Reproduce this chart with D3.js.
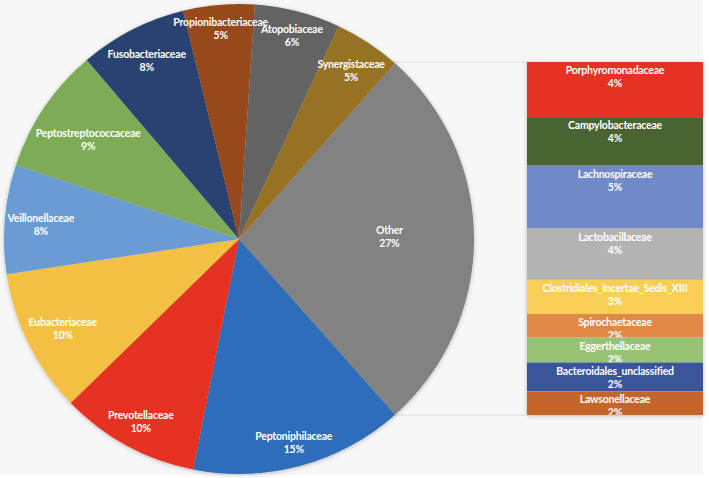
<!DOCTYPE html>
<html lang="en">
<head>
<meta charset="utf-8">
<title>pie of bar</title>
<script src="https://d3js.org/d3.v7.min.js"></script>
<style>
  body { margin: 0; background: #ffffff; font-family: Lato, "Open Sans", sans-serif; }
  .lbl { fill: #ffffff; font-size: 10.5px; font-weight: 700; letter-spacing: -0.2px; }
</style>
</head>
<body>
<div id="chart"></div>
<script>
// pie slices (clockwise, starting with the combined "Other" slice)
var pieNames = ["Other", "Peptoniphilaceae", "Prevotellaceae", "Eubacteriaceae", "Veillonellaceae",
  "Peptostreptococcaceae", "Fusobacteriaceae", "Propionibacteriaceae", "Atopobiaceae", "Synergistaceae"];
var pieValues = [26.9, 14.7, 9.6, 9.9, 7.5, 8.7, 7.4, 4.9, 5.9, 4.6];
var pieLabels = ["27%", "15%", "10%", "10%", "8%", "9%", "8%", "5%", "6%", "5%"];
var pieColors = ["#828282", "#2e6dba", "#e53222", "#f4c043", "#6a9bd4", "#7eab55",
  "#2b4271", "#97491e", "#636363", "#967222"];

// bar breakdown of "Other", top to bottom
var barNames = ["Porphyromonadaceae", "Campylobacteraceae", "Lachnospiraceae", "Lactobacillaceae",
  "Clostridiales_Incertae_Sedis_XIII", "Spirochaetaceae", "Eggerthellaceae",
  "Bacteroidales_unclassified", "Lawsonellaceae"];
var barValues = [4.2, 3.7, 4.8, 3.9, 2.6, 1.8, 1.9, 2.2, 1.8];
var barLabels = ["4%", "4%", "5%", "4%", "3%", "2%", "2%", "2%", "2%"];
var barColors = ["#e63223", "#4a6431", "#7089c9", "#b3b3b3", "#f8ce57", "#e08846",
  "#98c274", "#3a559a", "#c4652c"];

var W = 709, H = 478;
var cx = 239, cy = 239, R = 235;
var barX = 527, barW = 176, barTop = 62, barBottom = 415;

var svg = d3.select("#chart").append("svg")
  .attr("width", W).attr("height", H);

var defs = svg.append("defs");
var shadow = defs.append("filter").attr("id", "shadow")
  .attr("x", "-10%").attr("y", "-10%").attr("width", "120%").attr("height", "120%");
shadow.append("feDropShadow").attr("dx", 0).attr("dy", 1).attr("stdDeviation", 2)
  .attr("flood-color", "#000").attr("flood-opacity", 0.25);
defs.append("clipPath").attr("id", "barclip").append("rect")
  .attr("x", barX).attr("y", barTop).attr("width", barW).attr("height", barBottom - barTop);

// chart area background
svg.append("rect").attr("x", 0).attr("y", 0).attr("width", 703).attr("height", 475)
  .attr("fill", "#f7f7f7");

var pieData = pieNames.map(function(d, i) {
  return {name: d, value: pieValues[i], label: pieLabels[i], color: pieColors[i]};
});
var otherAngle = 2 * Math.PI * pieValues[0] / d3.sum(pieValues);

var pie = d3.pie()
  .sort(null)
  .value(function(d) { return d.value; })
  .startAngle(Math.PI / 2 - otherAngle / 2)
  .endAngle(Math.PI / 2 - otherAngle / 2 + 2 * Math.PI);

var arcs = pie(pieData);
var arc = d3.arc().innerRadius(0).outerRadius(R);

// connector lines from the "Other" slice to the bar
var other = arcs[0];
var p0 = [cx + R * Math.sin(other.startAngle), cy - R * Math.cos(other.startAngle)];
var p1 = [cx + R * Math.sin(other.endAngle), cy - R * Math.cos(other.endAngle)];
var yBar = d3.scaleLinear().domain([0, d3.sum(barValues)]).range([barTop, barBottom]);
svg.append("line").attr("x1", p0[0]).attr("y1", yBar(0)).attr("x2", barX).attr("y2", yBar(0))
  .attr("stroke", "#dcdcdc").attr("stroke-width", 1);
svg.append("line").attr("x1", p1[0]).attr("y1", yBar.range()[1]).attr("x2", barX).attr("y2", yBar.range()[1])
  .attr("stroke", "#dcdcdc").attr("stroke-width", 1);

var pieG = svg.append("g").attr("transform", "translate(" + cx + "," + cy + ")");
pieG.append("g").attr("filter", "url(#shadow)")
  .selectAll("path").data(arcs).enter().append("path")
  .attr("d", arc)
  .attr("fill", function(d) { return d.data.color; });

// slice labels: push out along the bisector as far as the text box fits in the circle
var lineGap = 13;
arcs.forEach(function(d, i) {
  var t = pieG.append("text").attr("class", "lbl").attr("text-anchor", "middle");
  t.append("tspan").attr("x", 0).attr("dy", 0).text(d.data.name);
  t.append("tspan").attr("x", 0).attr("dy", lineGap).text(d.data.label);
  var w = t.node().getBBox().width;
  var mid = (d.startAngle + d.endAngle) / 2;
  var sx = Math.sin(mid), sy = -Math.cos(mid);
  var r, dy = 6;
  if (i === 0) {
    r = 0.64 * R;
    dy = 1;
  } else {
    r = 0.91 * R;
    while (r > 0) {
      var x = r * sx, y = r * sy;
      var fx = Math.abs(x) + w / 2, fy = Math.abs(y) + 12;
      if (Math.sqrt(fx * fx + fy * fy) <= R - 1) break;
      r -= 1;
    }
  }
  var lx = r * sx, ly = r * sy;
  t.attr("transform", "translate(" + lx + "," + (ly - lineGap / 2 + dy) + ")");
});

// bar of "Other"
var barData = barNames.map(function(d, i) {
  return {name: d, value: barValues[i], label: barLabels[i], color: barColors[i]};
});
var cum = 0;
barData.forEach(function(d) { d.y0 = cum; cum += d.value; d.y1 = cum; });

svg.append("rect").attr("x", barX).attr("y", barTop).attr("width", barW)
  .attr("height", barBottom - barTop).attr("fill", "#f7f7f7").attr("filter", "url(#shadow)");

var barG = svg.append("g").attr("clip-path", "url(#barclip)");
barData.forEach(function(d) {
  barG.append("rect")
    .attr("x", barX).attr("width", barW)
    .attr("y", yBar(d.y0)).attr("height", yBar(d.y1) - yBar(d.y0))
    .attr("fill", d.color);
  var t = barG.append("text").attr("class", "lbl").attr("text-anchor", "middle")
    .attr("transform", "translate(" + (barX + barW / 2) + "," + (yBar(d.y0) + 12) + ")");
  t.append("tspan").attr("x", 0).attr("dy", 0).text(d.name);
  t.append("tspan").attr("x", 0).attr("dy", lineGap).text(d.label);
});
</script>
</body>
</html>
